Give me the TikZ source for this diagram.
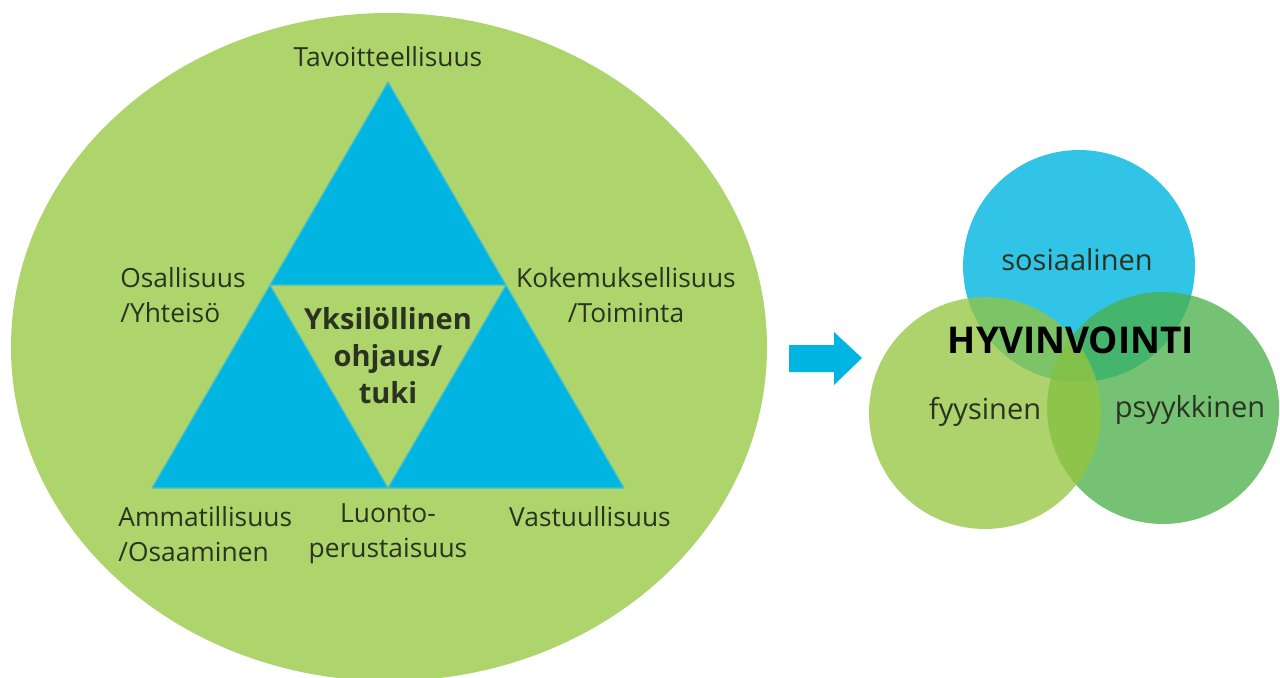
\documentclass[tikz,border=0pt]{standalone}
\usepackage{fontspec}
\setmainfont{Open Sans}
\usetikzlibrary{positioning}
\definecolor{leaf}{HTML}{AED46C}
\definecolor{sky}{HTML}{00B5E2}
\definecolor{skyedge}{HTML}{4CC2C0}
\definecolor{social}{HTML}{32C4E6}
\definecolor{body}{HTML}{95C53E}
\definecolor{mind}{HTML}{4BAF48}
\definecolor{ink}{HTML}{2B3320}
\begin{document}
\begin{tikzpicture}[x=0.02cm, y=-0.02cm,
    lbl/.style={font=\fontsize{15}{19.8}\selectfont, text=ink, inner sep=0pt},
    core/.style={font=\bfseries\fontsize{16.5}{21}\selectfont, text=ink, align=center, inner sep=0pt},
    tri/.style={fill=sky, draw=skyedge, line width=0.7pt, line join=bevel},
    venn/.style={circle, minimum size=4.64cm, inner sep=0pt, fill opacity=0.76},
    vlbl/.style={font=\fontsize{16.5}{20}\selectfont, text=ink, inner sep=0pt}]
    \useasboundingbox (0,0) rectangle (1280,677);
    \fill[leaf] (389,347) ellipse [x radius=378, y radius=334];
    \coordinate (apex) at (388,82);
    \coordinate (bl) at (152,488);
    \coordinate (br) at (624,488);
    \coordinate (ml) at (270,285);
    \coordinate (mr) at (506,285);
    \coordinate (mb) at (388,488);
    \draw[tri] (apex) -- (ml) -- (mr) -- cycle;
    \draw[tri] (ml) -- (bl) -- (mb) -- cycle;
    \draw[tri] (mr) -- (mb) -- (br) -- cycle;
    \node[lbl] (goal) at (388,57) {Tavoitteellisuus};
    \node[lbl, align=left, anchor=west] (part) at (120,295) {Osallisuus\\/Yhteisö};
    \node[lbl, align=center] (exp) at (626,295) {Kokemuksellisuus\\/Toiminta};
    \node[core] (guide) at (388,356) {Yksilöllinen\\ohjaus/\\tuki};
    \node[lbl, align=left, anchor=west] (prof) at (118,534) {Ammatillisuus\\/Osaaminen};
    \node[lbl, align=center] (nature) at (388,534) {Luonto-\\perustaisuus};
    \node[lbl] (resp) at (590,517) {Vastuullisuus};
    \fill[sky] (789,345) -- (834,345) -- (834,332) -- (862,358)
        -- (834,385) -- (834,372) -- (789,372) -- cycle;
    \node[venn, fill=social, fill opacity=1] (soc) at (1079,266) {};
    \node[venn, fill=mind] (psy) at (1163,408) {};
    \node[venn, fill=body] (phy) at (985,413) {};
    \node[vlbl] (soclbl) at (1077,260) {sosiaalinen};
    \node[vlbl] (phylbl) at (985,412) {fyysinen};
    \node[vlbl] (psylbl) at (1190,410) {psyykkinen};
    \node[font=\bfseries\fontsize{21}{25}\selectfont, inner sep=0pt] (well) at (1071,340) {HYVINVOINTI};
\end{tikzpicture}
\end{document}
